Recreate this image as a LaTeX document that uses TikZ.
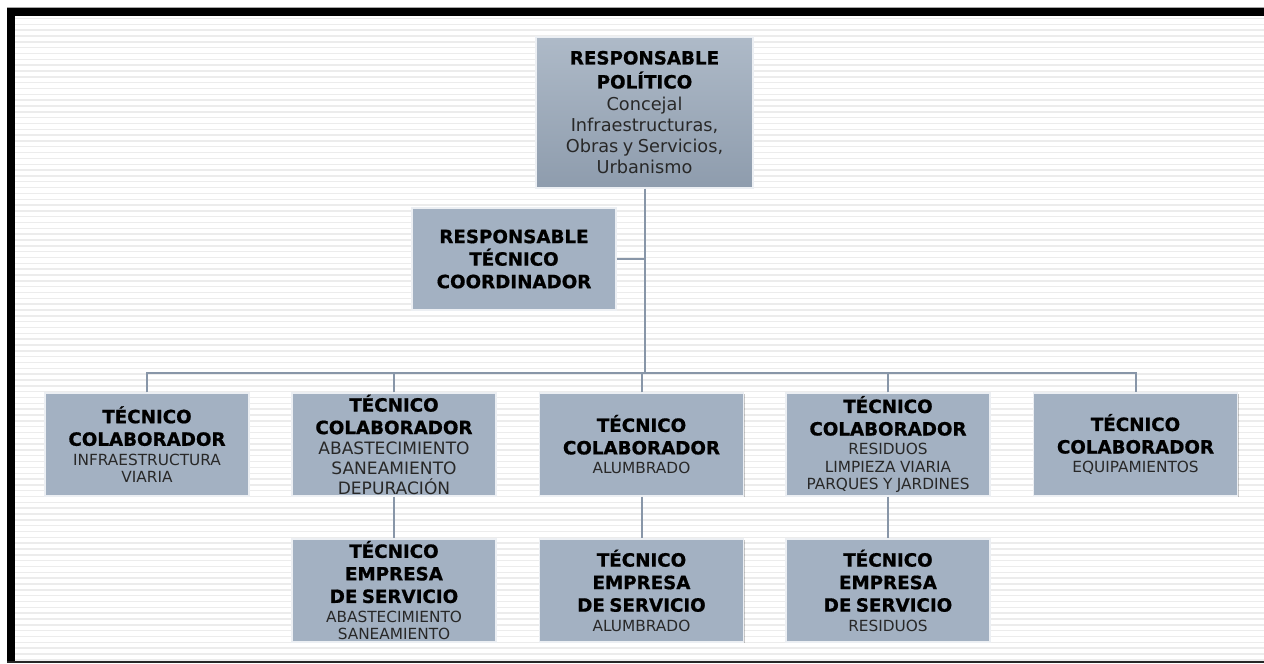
\documentclass[tikz,border=0pt]{standalone}
\usepackage{fontspec}
\setmainfont{DejaVu Sans}[BoldFeatures={FakeBold=0.8}]
\usetikzlibrary{shadows}
\definecolor{boxc}{RGB}{163,177,194}
\definecolor{boxb}{RGB}{236,239,243}
\definecolor{topc}{RGB}{174,186,200}
\definecolor{botc}{RGB}{142,156,173}
\definecolor{connc}{RGB}{136,150,168}
\definecolor{stripec}{RGB}{236,236,236}
\definecolor{subc}{RGB}{40,40,40}
\newcommand\TitF{\fontsize{13.7}{16.9}\selectfont\bfseries\color{black}}
\newcommand\TitP{\fontsize{13.7}{18}\selectfont\bfseries\color{black}}
\newcommand\SubF{\fontsize{11.5}{13.1}\selectfont\mdseries\color{subc}}
\newcommand\SubL{\fontsize{12.8}{15}\selectfont\mdseries\color{subc}}
\newcommand\PolF{\fontsize{13.3}{15.75}\selectfont\mdseries\color{subc}}
\tikzset{
  box/.style={rectangle, fill=boxc, draw=boxb, line width=0.8pt,
    minimum width=153pt, minimum height=77.25pt, inner sep=0pt,
    text width=150pt, align=center,
    drop shadow={shadow xshift=0.8pt, shadow yshift=-0.8pt, fill=black, opacity=0.22}},
  conn/.style={draw=connc, line width=1.5pt},
  stripe/.style={draw=stripec, line width=1.1pt}
}
\begin{document}
\begin{tikzpicture}[x=0.75pt,y=-0.75pt]
\useasboundingbox (0,0) rectangle (1264,664);
\fill[white] (0,0) rectangle (1264,664);
% background stripes
\foreach \k in {0,...,110}{
  \draw[stripe] (15,{18.5+\k*5.83}) -- (1264,{18.5+\k*5.83});
}
% frame
\fill[gray!70] (7,7.3) rectangle (1264,8.3);
\fill[black] (7,8) rectangle (1264,16);
\fill[black] (7,8) rectangle (15,663);
\fill[black!85] (7,661) rectangle (1264,663);

% nodes
\node[box, minimum width=162.75pt, minimum height=113.25pt, text width=160pt,
      top color=topc, bottom color=botc] (pol) at (644.5,112.5)
  {{\TitP RESPONSABLE\\POLÍTICO\par}\vspace{1pt}{\PolF Concejal\\Infraestructuras,\\Obras y Servicios,\\Urbanismo\par}};
\node[box, minimum height=76.5pt] (coord) at (514,259)
  {{\TitF RESPONSABLE\\TÉCNICO\\COORDINADOR\par}};

\node[box] (c1) at (147,444.5)
  {{\TitF TÉCNICO\\COLABORADOR\par}\vspace{1.5pt}{\SubF INFRAESTRUCTURA\\VIARIA\par}};
\node[box] (c2) at (394,444.5)
  {{\TitF TÉCNICO\\COLABORADOR\par}{\SubL ABASTECIMIENTO\\SANEAMIENTO\\DEPURACIÓN\par}};
\node[box] (c3) at (641.5,444.5)
  {{\TitF TÉCNICO\\COLABORADOR\par}\vspace{1.5pt}{\SubF ALUMBRADO\par}};
\node[box] (c4) at (888,444.5)
  {{\TitF TÉCNICO\\COLABORADOR\par}\vspace{1.5pt}{\SubF RESIDUOS\\LIMPIEZA VIARIA\\PARQUES Y JARDINES\par}};
\node[box] (c5) at (1135.5,444.5)
  {{\TitF TÉCNICO\\COLABORADOR\par}\vspace{1.5pt}{\SubF EQUIPAMIENTOS\par}};

\node[box] (e2) at (394,590.5)
  {{\TitF TÉCNICO\\EMPRESA\\DE SERVICIO\par}\vspace{1.5pt}{\SubF ABASTECIMIENTO\\SANEAMIENTO\par}};
\node[box] (e3) at (641.5,590.5)
  {{\TitF TÉCNICO\\EMPRESA\\DE SERVICIO\par}\vspace{1.5pt}{\SubF ALUMBRADO\par}};
\node[box] (e4) at (888,590.5)
  {{\TitF TÉCNICO\\EMPRESA\\DE SERVICIO\par}\vspace{1.5pt}{\SubF RESIDUOS\par}};

% connectors
\coordinate (bus) at (644.5,373);
\draw[conn] (pol.south) -- (bus);
\draw[conn] (coord.east) -- (coord.east -| bus);
\draw[conn] (c1.north) |- (bus) -| (c5.north);
\draw[conn] (c2.north) -- (c2.north |- bus);
\draw[conn] (c3.north) -- (c3.north |- bus);
\draw[conn] (c4.north) -- (c4.north |- bus);
\draw[conn] (c2.south) -- (e2.north);
\draw[conn] (c3.south) -- (e3.north);
\draw[conn] (c4.south) -- (e4.north);
\end{tikzpicture}
\end{document}
